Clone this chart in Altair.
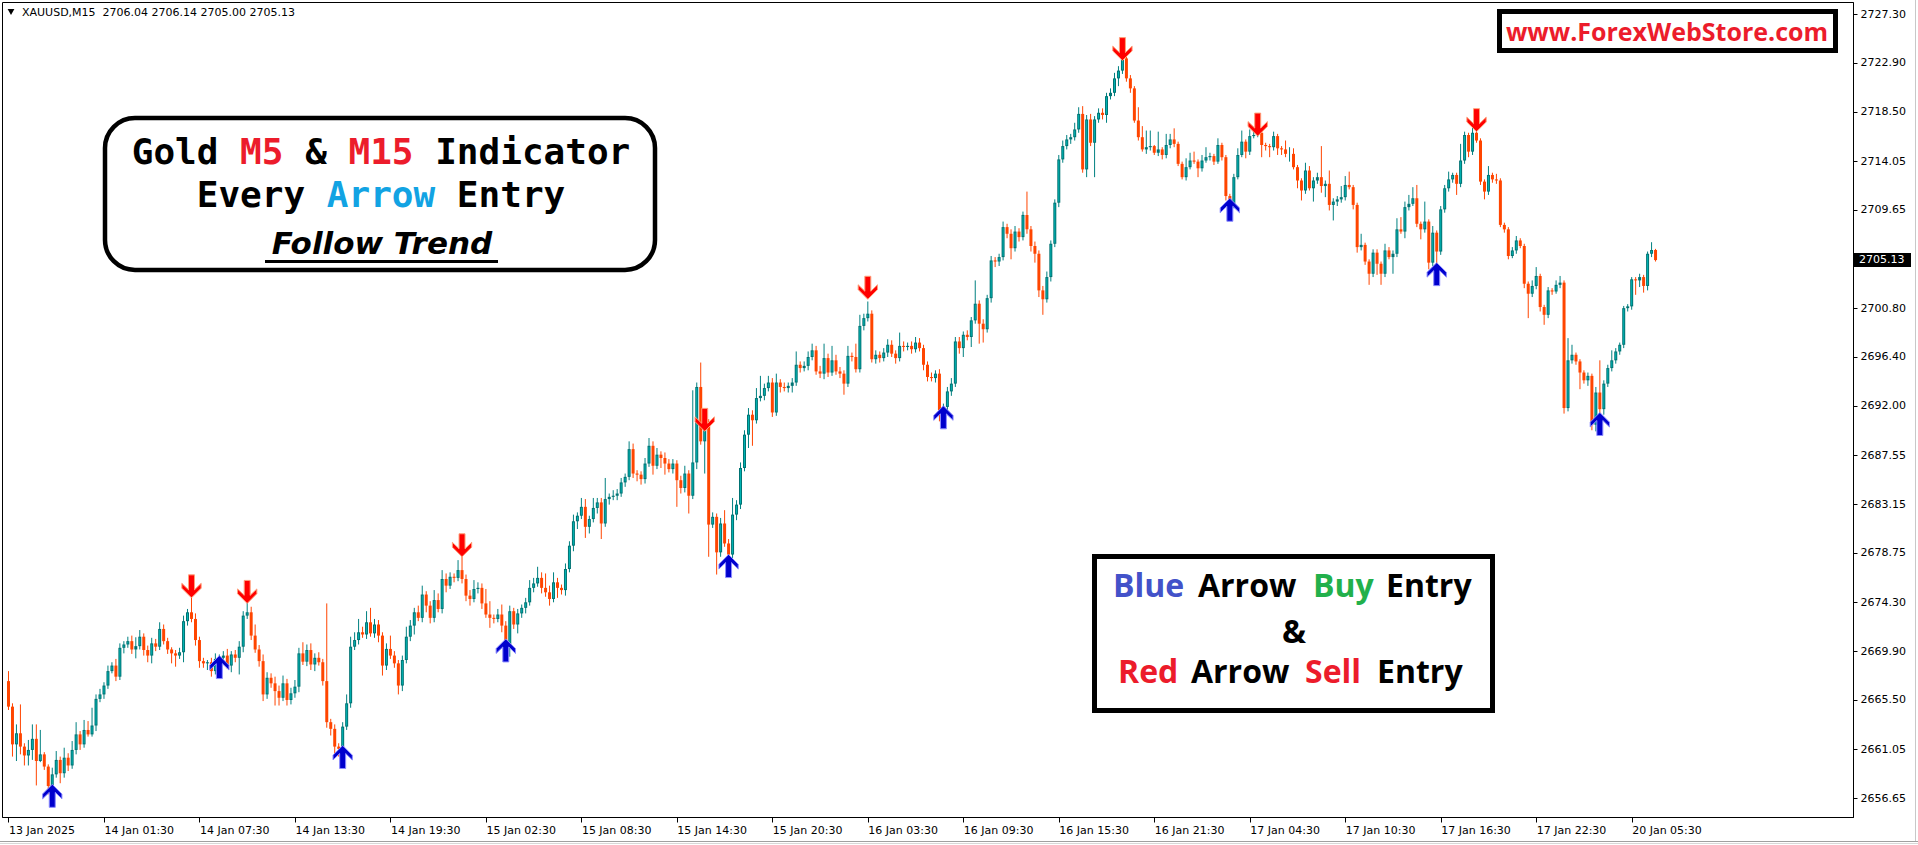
import altair as alt
import pandas as pd

# ---------------------------------------------------------------- data
# XAUUSD M15 candles: first open, then the close of every bar;
# wick lengths (in dollars) above and below each body.
FIRST_OPEN = 2667.2

closes = [
    2664.9, 2661.5, 2662.5, 2661.3, 2660.5, 2661.0, 2662.0, 2660.0, 2660.6, 2659.5,
    2657.75, 2658.8, 2660.1, 2658.9, 2660.3, 2659.6, 2661.0, 2662.4, 2661.5, 2662.8,
    2662.4, 2663.2, 2665.6, 2666.0, 2666.8, 2668.1, 2668.6, 2667.6, 2670.2, 2670.5,
    2670.8, 2670.05, 2670.35, 2671.2, 2670.0, 2669.5, 2670.6, 2670.3, 2671.9, 2670.8,
    2670.05, 2669.7, 2669.5, 2669.8, 2672.6, 2673.4, 2672.8, 2670.9, 2669.0, 2668.8,
    2668.9, 2668.1, 2669.2, 2669.3, 2669.5, 2668.6, 2669.6, 2669.3, 2670.3, 2673.1,
    2673.4, 2671.3, 2670.05, 2669.0, 2666.0, 2667.5, 2667.0, 2666.3, 2665.7, 2667.0,
    2665.5, 2666.1, 2666.7, 2669.7, 2668.95, 2670.0, 2668.7, 2669.3, 2668.9, 2667.2,
    2663.5, 2662.9, 2661.3, 2661.1, 2663.1, 2665.2, 2670.3, 2670.9, 2671.6, 2671.4,
    2672.5, 2671.5, 2672.3, 2671.3, 2668.6, 2670.1, 2669.5, 2668.8, 2666.8, 2669.1,
    2671.2, 2672.2, 2673.4, 2672.9, 2675.0, 2674.0, 2672.9, 2674.5, 2673.7, 2676.4,
    2675.8, 2676.6, 2676.5, 2677.2, 2676.4, 2674.9, 2674.6, 2675.5, 2675.6, 2674.2,
    2673.2, 2672.9, 2672.8, 2673.2, 2672.2, 2670.3, 2673.5, 2672.3, 2673.3, 2673.8,
    2674.3, 2675.6, 2676.0, 2676.5, 2675.6, 2675.2, 2674.6, 2676.1, 2675.6, 2675.4,
    2677.3, 2679.4, 2681.6, 2682.1, 2682.9, 2681.1, 2681.8, 2682.8, 2683.3, 2681.4,
    2683.6, 2683.8, 2683.9, 2684.1, 2685.1, 2685.6, 2688.1, 2685.9, 2685.8, 2685.4,
    2686.8, 2688.4, 2686.6, 2687.6, 2687.3, 2686.8, 2686.3, 2686.8, 2685.3, 2684.6,
    2685.9, 2683.9, 2686.9, 2693.7, 2688.8, 2690.5, 2681.3, 2682.0, 2678.8, 2681.4,
    2679.6, 2678.6, 2682.2, 2683.1, 2686.4, 2689.4, 2691.2, 2690.7, 2692.7, 2692.9,
    2693.6, 2694.1, 2691.4, 2694.1, 2693.7, 2693.6, 2693.8, 2694.1, 2695.7, 2695.4,
    2695.6, 2696.4, 2697.0, 2695.1, 2694.9, 2696.3, 2695.0, 2696.1, 2695.1, 2694.9,
    2694.0, 2696.5, 2696.4, 2695.3, 2699.2, 2699.9, 2700.3, 2696.2, 2696.6, 2696.3,
    2696.8, 2697.5, 2696.7, 2696.3, 2697.4, 2697.3, 2697.4, 2697.1, 2697.7, 2697.2,
    2695.7, 2694.6, 2694.5, 2694.9, 2691.6, 2691.9, 2693.3, 2694.0, 2697.8, 2697.2,
    2698.4, 2698.2, 2699.7, 2701.2, 2699.4, 2698.9, 2701.7, 2705.1, 2705.0, 2705.4,
    2708.1, 2707.5, 2706.2, 2707.7, 2707.2, 2709.2, 2707.9, 2706.4, 2705.7, 2702.4,
    2701.6, 2703.6, 2706.6, 2710.3, 2714.2, 2715.4, 2716.0, 2716.2, 2716.9, 2718.3,
    2713.3, 2717.8, 2715.7, 2717.8, 2718.4, 2718.2, 2719.9, 2720.2, 2721.5, 2722.2,
    2723.3, 2721.5, 2720.6, 2717.7, 2716.2, 2715.1, 2715.3, 2715.4, 2714.8, 2715.1,
    2714.6, 2715.5, 2716.0, 2715.6, 2713.8, 2712.6, 2713.5, 2714.1, 2714.0, 2713.4,
    2714.1, 2714.4, 2714.5, 2714.0, 2715.5, 2714.4, 2710.9, 2710.2, 2712.6, 2714.6,
    2715.8, 2714.9, 2716.3, 2716.4, 2716.6, 2715.5, 2715.4, 2715.3, 2716.3, 2715.2,
    2715.1, 2714.7, 2714.7, 2713.5, 2712.3, 2711.4, 2713.2, 2711.6, 2712.3, 2712.6,
    2711.8, 2712.0, 2710.1, 2710.4, 2710.6, 2710.8, 2711.9, 2711.7, 2710.1, 2706.3,
    2706.5, 2705.0, 2703.9, 2705.8, 2704.8, 2703.9, 2706.0, 2705.4, 2705.7, 2707.9,
    2707.7, 2709.9, 2710.2, 2710.7, 2708.4, 2707.9, 2708.6, 2704.9, 2707.6, 2705.9,
    2709.7, 2711.6, 2712.4, 2712.8, 2712.0, 2714.1, 2716.4, 2714.9, 2716.6, 2715.9,
    2712.2, 2711.3, 2712.8, 2712.4, 2712.3, 2708.3, 2707.9, 2705.5, 2706.0, 2706.9,
    2706.4, 2703.0, 2702.1, 2702.8, 2703.7, 2700.9, 2700.2, 2702.4, 2702.3, 2702.9,
    2703.1, 2691.8, 2696.1, 2696.6, 2696.0, 2695.0, 2694.3, 2694.7, 2690.3, 2693.2,
    2691.7, 2694.0, 2695.4, 2696.1, 2696.9, 2697.5, 2700.8, 2700.96, 2703.4, 2703.3,
    2703.6, 2702.8, 2705.7, 2706.04, 2705.13,
]

upper_wick = [
    .9, .3, .8, 2.6, .3, .9, 1.3, 1.3, 2.2, .2,
    .2, .6, .8, .3, .9, .4, .8, 1.1, .3, .9,
    .8, 1.6, .4, .5, .3, .5, .3, .6, .4, .3,
    .4, .5, .8, .6, .3, .4, .5, .4, .6, .4,
    .3, .2, .3, .4, .5, .3, 1.4, .5, .3, .3,
    .2, .4, .5, .3, .4, .6, .3, .4, .5, .4,
    .9, .5, 1.0, .4, .6, .5, .4, .6, .5, .7,
    .4, .5, .6, .5, 1.0, .5, .6, .4, .5, .3,
    7.0, .3, .4, .3, .4, .8, .9, .7, 1.2, .5,
    1.0, 1.3, .5, .4, .3, .5, 1.2, .4, .3, .4,
    .9, .5, .4, .6, .8, .3, .4, .9, .6, .8,
    .5, .4, .3, .9, 1.7, .4, .5, .8, .5, .4,
    1.3, 1.2, .3, .5, .9, .4, .5, .3, .4, .3,
    .4, .7, .5, 1.0, .5, 1.3, .6, .9, .4, .3,
    .5, .4, .6, .3, .8, .7, .3, .9, .4, .4,
    1.9, .3, .5, .4, .4, .3, .7, .5, .3, .3,
    .5, .7, .4, .6, .3, .5, .4, .4, .3, .4,
    .7, .3, 6.5, .4, 2.2, .4, .3, .4, .3, .5,
    1.2, .4, 1.5, .4, .5, .4, .6, .4, .9, 1.8,
    .4, .6, .4, .8, .3, .4, .3, .4, 1.2, .3,
    .4, .5, .6, .4, .5, 1.3, .4, 1.3, .5, .4,
    .3, .9, .3, 1.2, 1.0, .4, 1.1, .3, .4, .3,
    .4, .5, .4, .3, 1.2, .4, .3, .4, .5, .4,
    .3, .3, .4, .3, .4, .3, .4, .5, .4, .4,
    .3, .4, .3, 2.1, .3, .4, .3, .4, .3, .3,
    .5, .3, .4, .5, .3, .3, 2.1, .3, .4, .3,
    .4, .5, .3, .3, .4, .5, .4, .3, .6, .6,
    .7, .4, .5, .3, .4, .4, .3, .4, .5, .4,
    1.2, .6, .3, .2, 1.2, 1.0, 1.5, 1.4, .1, 1.6,
    .2, 1.0, .5, 1.0, .2, .2, .8, .7, .8, .2,
    .5, .9, .3, .2, .6, .2, .2, .2, .3, .6,
    1.0, .2, .6, .6, .6, .2, .2, .2, .4, .2,
    .2, .8, .6, .5, .2, .2, .7, .4, .3, .4,
    2.8, .3, 1.2, .3, .3, 1.0, .8, 1.2, .2, .2,
    1.0, .2, .2, .3, .3, .2, .6, .3, .3, 1.0,
    1.1, .5, .8, 1.0, 1.2, .2, 1.8, .2, .6, .2,
    .3, .3, .7, .2, .2, 1.5, .3, .2, .5, .3,
    .2, .2, .8, .2, .5, .2, .2, .2, .3, .4,
    .2, .2, .2, .5, .8, .2, .2, .3, .2, .4,
    .6, .2, 2.0, .9, .2, .2, .2, .3, .2, .5,
    2.9, .3, .3, .9, .3, .2, .2, .2, .2, .2,
    .3, .2, .2, .7, .1,
]

lower_wick = [
    .3, 1.1, 1.5, .7, .9, .9, .9, 2.2, .1, .3,
    .75, .85, .3, .9, .4, .5, .3, .4, .5, .3,
    .2, .2, .5, .3, .4, .3, .2, .4, .3, .5,
    .3, .4, .8, .3, .5, .6, .7, .4, .3, .3,
    .4, .9, 1.0, .3, .9, .4, .3, .5, .6, .4,
    .6, .5, .3, .5, .4, .3, .6, .4, 1.5, .5,
    .3, .4, .3, .5, .6, .4, .4, 1.3, .7, .3,
    .5, .4, .4, .5, .3, .4, .5, .6, .3, .4,
    .5, .6, 1.0, .7, .3, .3, .4, .3, .4, .3,
    .4, .3, .4, .6, .9, .4, .3, .4, .8, .5,
    .3, .4, .8, .3, .4, .6, .5, .4, .3, .4,
    .6, .3, .4, .3, .4, .5, .6, .3, .4, .5,
    .3, .9, .4, .3, .6, .3, .9, .4, .8, .4,
    .5, .3, .4, .3, .5, .4, .6, .3, .9, .4,
    .5, .3, .5, .7, .3, 1.0, .6, .3, .5, 1.4,
    .3, .5, .3, .4, .3, .4, .3, .4, .6, .5,
    .4, .3, .8, .3, .9, 1.0, .3, .4, 2.4, .5,
    .4, 1.6, .3, .6, .3, 2.9, 2.9, .3, 2.0, .4,
    .3, 1.2, .3, .5, .4, .3, 1.2, 2.3, .3, .3,
    .4, .3, .4, .3, .5, .3, .4, .6, .3, .4,
    .3, .4, .3, .3, .4, .5, .4, .3, .3, .4,
    1.0, .3, .4, .3, .3, .4, .3, .3, .4, .4,
    .3, .4, .3, .5, .3, .4, .3, .4, .3, .3,
    .5, .4, .3, .4, 1.0, 1.5, .3, .4, .3, .5,
    .8, .3, .9, .3, 1.8, 1.2, .3, .4, .5, .4,
    .3, .4, 1.0, .3, .4, .3, .4, .5, .8, .6,
    1.4, .3, .4, .3, .4, .3, .3, .4, .3, .3,
    .3, .7, .3, 3.1, .3, .4, .7, .3, .3, .7,
    .3, .3, .4, .2, .3, .2, .4, .3, .2, .3,
    .4, .3, .3, .3, .2, .2, .3, .2, .2, .8,
    .3, .2, .3, .3, .2, .3, .4, .4, .4, .2,
    .2, .6, .3, .2, .2, 1.1, .4, .9, .3, .6,
    .5, .3, .7, .2, .7, .9, .3, .2, 1.2, .3,
    .6, 1.0, .5, 1.4, .4, .3, .3, .2, .4, .5,
    .3, .3, 1.0, .3, 1.0, 1.0, .3, .2, 1.5, .3,
    .2, .6, .3, .2, .3, .9, .3, .6, .3, 1.5,
    .3, .3, .3, .3, 1.0, .3, .3, .5, .3, .2,
    .3, .7, .3, .3, .3, .2, .3, .3, .2, .3,
    .2, .4, 2.2, .3, .3, .4, .9, .3, .3, .2,
    .3, .5, .3, .3, .3, 1.5, .3, .5, .5, .6,
    1.7, .5, .3, .3, .3, .3, .3, .3, .3, 1.3,
    .6, .6, .4, .3, .13,
]

# Signal arrows: bar index and the price at the arrow tip
buy_bars = [11, 53, 84, 125, 181, 235, 307, 359, 400]
buy_tips = [2657.9, 2669.5, 2661.4, 2671.0, 2678.6, 2692.0, 2710.7, 2704.9, 2691.4]
sell_bars = [46, 60, 114, 175, 216, 280, 314, 369]
sell_tips = [2674.7, 2674.2, 2678.4, 2689.7, 2701.6, 2723.1, 2716.3, 2716.7]

# Axis labelling
time_labels = [
    "13 Jan 2025", "14 Jan 01:30", "14 Jan 07:30", "14 Jan 13:30", "14 Jan 19:30",
    "15 Jan 02:30", "15 Jan 08:30", "15 Jan 14:30", "15 Jan 20:30", "16 Jan 03:30",
    "16 Jan 09:30", "16 Jan 15:30", "16 Jan 21:30", "17 Jan 04:30", "17 Jan 10:30",
    "17 Jan 16:30", "17 Jan 22:30", "20 Jan 05:30",
]
BARS_PER_LABEL = 24
price_ticks = [2727.30, 2722.90, 2718.50, 2714.05, 2709.65, 2700.80, 2696.40,
               2692.00, 2687.55, 2683.15, 2678.75, 2674.30, 2669.90, 2665.50,
               2661.05, 2656.65]

SYMBOL = "XAUUSD,M15"

# ---------------------------------------------------------------- layout
TOTAL_W, TOTAL_H = 1918, 845
LEFT, TOP = 2, 2
PLOT_W, PLOT_H = 1851, 815
RIGHT = TOTAL_W - LEFT - PLOT_W
BOTTOM = TOTAL_H - TOP - PLOT_H
PX_PER_BAR = 4
PX_PER_DOLLAR = 11.1

x_lo = -0.375
x_hi = x_lo + PLOT_W / PX_PER_BAR
y_hi = 2727.30 + 12 / PX_PER_DOLLAR
y_lo = y_hi - PLOT_H / PX_PER_DOLLAR

FONT = "DejaVu Sans"
BULL_EDGE = "#007373"
BULL_FILL = "#00b4b4"
BULL_WICK = "#008080"
BEAR = "#ff4500"
NB = "\u00a0"

# ---------------------------------------------------------------- frame
n = len(closes)
opens = [FIRST_OPEN] + closes[:-1]
highs = [max(o, c) + u for o, c, u in zip(opens, closes, upper_wick)]
lows = [min(o, c) - d for o, c, d in zip(opens, closes, lower_wick)]
candles = pd.DataFrame({
    "bar": list(range(n)), "open": opens, "high": highs,
    "low": lows, "close": closes,
})
candles["rise"] = candles["close"] - candles["open"]

xs = alt.Scale(domain=[x_lo, x_hi], nice=False, zero=False)
ys = alt.Scale(domain=[y_lo, y_hi], nice=False, zero=False)

label_js = "[" + ",".join("'%s'" % t for t in time_labels) + "]"
x_axis = alt.Axis(
    values=[i * BARS_PER_LABEL for i in range(len(time_labels))],
    labelExpr=label_js + "[round(datum.value / %d)]" % BARS_PER_LABEL,
    labelAlign="left", labelBaseline="top", labelPadding=2,
    tickSize=5, tickColor="black", domainColor="black", labelColor="black",
    labelFont=FONT, labelFontSize=11, grid=False, title=None,
    labelOverlap=False, labelFlush=False,
)
y_axis = alt.Axis(
    orient="right", values=price_ticks, format=".2f",
    labelAlign="left", labelBaseline="middle", labelPadding=3,
    tickSize=4, tickColor="black", domainColor="black", labelColor="black",
    labelFont=FONT, labelFontSize=11, grid=False, title=None,
    labelOverlap=False, labelFlush=False,
)

X = alt.X("bar:Q", scale=xs, axis=x_axis, title=None)


def Y(field):
    return alt.Y(field, scale=ys, axis=y_axis, title=None)


base = alt.Chart(candles)

wick_bull = base.transform_filter("datum.close >= datum.open").mark_rule(
    color=BULL_WICK, strokeWidth=1).encode(x=X, y=Y("low:Q"), y2="high:Q")
wick_bear = base.transform_filter("datum.close < datum.open").mark_rule(
    color=BEAR, strokeWidth=1).encode(x=X, y=Y("low:Q"), y2="high:Q")
body_bear = base.transform_filter("datum.close < datum.open").mark_bar(
    size=3, color=BEAR).encode(x=X, y=Y("open:Q"), y2="close:Q")
body_bull = base.transform_filter("datum.close >= datum.open").mark_bar(
    size=3, color=BULL_EDGE).encode(x=X, y=Y("open:Q"), y2="close:Q")
body_bull_core = base.transform_filter("datum.rise > 0.3").mark_rule(
    color=BULL_FILL, strokeWidth=1, yOffset=1, y2Offset=-1
).encode(x=X, y=Y("close:Q"), y2="open:Q")

# ---------------------------------------------------------------- arrows
UP = ("M0,-1L0.84,-0.16L0.84,0.26L0.26,-0.3L0.26,1L-0.26,1L-0.26,-0.3"
      "L-0.84,0.26L-0.84,-0.16Z")
DOWN = ("M0,1L0.84,0.16L0.84,-0.26L0.26,0.3L0.26,-1L-0.26,-1L-0.26,0.3"
        "L-0.84,-0.26L-0.84,0.16Z")
ARROW_SIZE = 529  # 23 px tall
buys = pd.DataFrame({"bar": buy_bars, "price": buy_tips})
sells = pd.DataFrame({"bar": sell_bars, "price": sell_tips})
buy_marks = alt.Chart(buys).mark_point(
    shape=UP, size=ARROW_SIZE, filled=True, fill="#0000cd", stroke="#8c8cff",
    strokeWidth=1, opacity=1, yOffset=11.5,
).encode(x=X, y=Y("price:Q"))
sell_marks = alt.Chart(sells).mark_point(
    shape=DOWN, size=ARROW_SIZE, filled=True, fill="#ff0000", stroke="#ffa07a",
    strokeWidth=1, opacity=1, yOffset=-11.5,
).encode(x=X, y=Y("price:Q"))

# ---------------------------------------------------------------- last price tag
last = pd.DataFrame({"price": [closes[-1]]})
tag_box = alt.Chart(last).mark_rect(color="black", yOffset=-7, y2Offset=7).encode(
    x=alt.value(1854 - LEFT), x2=alt.value(1911 - LEFT),
    y=Y("price:Q"), y2="price:Q")
tag_text = alt.Chart(last).mark_text(
    align="left", baseline="middle", color="white", font=FONT, fontSize=11,
).encode(x=alt.value(1859 - LEFT), y=Y("price:Q"),
         text=alt.Text("price:Q", format=".2f"))

# ---------------------------------------------------------------- annotations
one = pd.DataFrame({"k": [0]})


def text_at(x, y, s, **kw):
    return alt.Chart(one).mark_text(text=s, **kw).encode(
        x=alt.value(x - LEFT), y=alt.value(y - TOP))


def rect_at(x1, y1, x2, y2, **kw):
    return alt.Chart(one).mark_rect(**kw).encode(
        x=alt.value(x1 - LEFT), x2=alt.value(x2 - LEFT),
        y=alt.value(y1 - TOP), y2=alt.value(y2 - TOP))


# window chrome: light separator lines at the right and bottom edges
chrome = [
    rect_at(0, 841, 1918, 842, fill="#a0a0a0"),
    rect_at(0, 843, 1918, 844, fill="#d8d8d8"),
    rect_at(1915, 0, 1916, 841, fill="#c8c8c8"),
]

header_row = [
    alt.Chart(one).mark_point(shape="triangle-down", size=45, filled=True,
                              color="black", opacity=1).encode(
        x=alt.value(11 - LEFT), y=alt.value(12 - TOP)),
    text_at(22, 13, "%s%s %.2f %.2f %.2f %.2f" % (
        SYMBOL, NB, opens[-1], highs[-1], lows[-1], closes[-1]),
        align="left", baseline="middle", font=FONT, fontSize=11, color="black"),
]

# website badge
RED = "#ec1c2b"
site = [
    rect_at(1499.5, 11.5, 1835.5, 50.5, fill="white", stroke="black", strokeWidth=5),
    text_at(1667, 41, "www.ForexWebStore.com", align="center", baseline="alphabetic",
            font="Open Sans", fontWeight="bold", fontSize=25, color=RED),
]

# rounded title box: monospace lines, each coloured word placed by its column
MONO = "DejaVu Sans Mono"
MONO_ADVANCE = 1233 / 2048  # glyph advance of DejaVu Sans Mono, in em


def mono_line(segments, cx, base_y, size):
    adv = MONO_ADVANCE * size
    total = sum(len(s) for s, _ in segments)
    x0 = cx - total * adv / 2
    layers, col = [], 0
    for s, colour in segments:
        word = s.strip()
        if word:
            lead = len(s) - len(s.lstrip())
            layers.append(text_at(x0 + (col + lead) * adv, base_y, word,
                                  align="left", baseline="alphabetic", font=MONO,
                                  fontWeight="bold", fontSize=size, color=colour))
        col += len(s)
    return layers


title_box = [rect_at(105, 118, 655, 270, fill="white", stroke="black",
                     strokeWidth=4.5, cornerRadius=30)]
title_box += mono_line([("Gold ", "black"), ("M5", RED), (" & ", "black"),
                        ("M15", RED), (" Indicator", "black")], 381, 164, 36)
title_box += mono_line([("Every ", "black"), ("Arrow", "#12a3e3"),
                        (" Entry", "black")], 381, 207, 36)
title_box += [
    text_at(382, 254, "Follow Trend", align="center", baseline="alphabetic",
            font="DejaVu Sans", fontWeight="bold", fontStyle="italic",
            fontSize=31, color="black"),
    rect_at(265, 260, 498, 263, fill="black"),
]

# legend box in the lower right
BLUE_WORD = "#4352c9"
GREEN_WORD = "#22b04b"
legend_box = [rect_at(1094.5, 556.5, 1492.5, 710.5, fill="white", stroke="black",
                      strokeWidth=5)]
legend_words = [
    (1113, 597, "Blue", BLUE_WORD), (1198, 597, "Arrow", "black"),
    (1313, 597, "Buy", GREEN_WORD), (1386, 597, "Entry", "black"),
    (1118, 683, "Red", RED), (1191, 683, "Arrow", "black"),
    (1305, 683, "Sell", RED), (1377, 683, "Entry", "black"),
]
for x, y, word, colour in legend_words:
    legend_box.append(text_at(x, y, word, align="left", baseline="alphabetic",
                              font="Open Sans", fontWeight="bold", fontSize=32,
                              color=colour))
legend_box.append(text_at(1294, 643, "&", align="center", baseline="alphabetic",
                          font="Open Sans", fontWeight="bold", fontSize=32,
                          color="black"))

chart = alt.layer(
    wick_bull, wick_bear, body_bear, body_bull, body_bull_core,
    buy_marks, sell_marks, tag_box, tag_text, *chrome,
    *header_row, *site, *title_box, *legend_box,
).properties(
    width=PLOT_W, height=PLOT_H,
    padding={"left": LEFT, "top": TOP, "right": RIGHT, "bottom": BOTTOM},
    autosize=alt.AutoSizeParams(type="none"),
    background="white",
).configure_view(stroke="black", strokeWidth=1)

chart.save("out.html", embed_options={"renderer": "svg", "actions": False})
